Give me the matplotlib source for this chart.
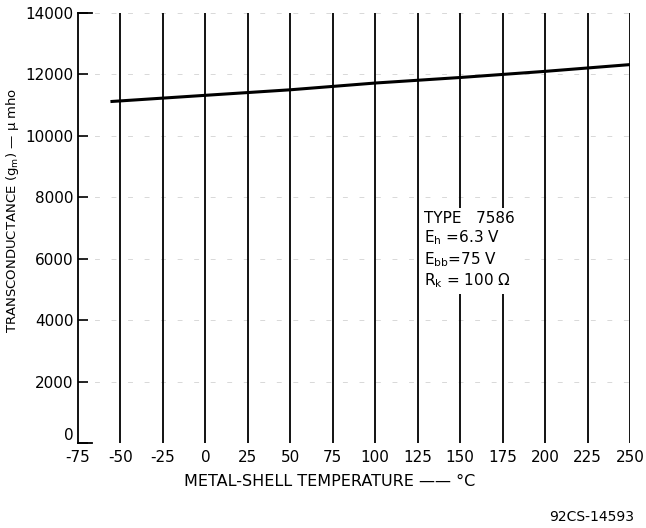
import matplotlib
matplotlib.use("Agg")
import matplotlib.pyplot as plt

temps = [-55, 0, 50, 100, 150, 200, 250]
gm = [11120, 11320, 11500, 11720, 11900, 12100, 12320]
xticks = list(range(-75, 251, 25))
yticks = list(range(0, 14001, 2000))

plt.rcParams['font.family'] = ['DejaVu Sans']
fig = plt.figure(figsize=(6.46, 5.28), dpi=100)
ax = fig.add_axes([78/646, 1-443/528, (630-78)/646, (443-13)/528])
ax.set_xlim(-75, 250)
ax.set_ylim(0, 14000)

for t in xticks[1:]:
    ax.axvline(t, color='black', lw=1.3, zorder=1)
for v in yticks[1:]:
    ax.axhline(v, color='#d8d8d8', lw=0.7, ls=(0, (5, 12)), zorder=0)

ax.plot(temps, gm, color='black', lw=2.2, zorder=3)

for s in ['top', 'bottom', 'right']:
    ax.spines[s].set_visible(False)
ax.spines['left'].set_linewidth(1.3)
ax.plot([-75, -67], [14000, 14000], color='black', lw=1.3, clip_on=False)
ax.plot([-75, -67], [0, 0], color='black', lw=1.3, clip_on=False)

ax.set_xticks(xticks)
ax.set_xticklabels([str(t) for t in xticks])
ax.set_yticks(yticks)
ax.set_yticklabels([str(v) for v in yticks])
ax.tick_params(axis='y', direction='in', length=7, width=1.2, labelsize=11, pad=3)
ax.tick_params(axis='x', length=0, labelsize=11, pad=5)
ax.get_yticklabels()[0].set_verticalalignment('bottom')

ax.set_xlabel('METAL-SHELL TEMPERATURE —— °C', fontsize=11.5)
ax.xaxis.set_label_coords((330-78)/552, -0.072)
ax.set_ylabel('TRANSCONDUCTANCE (g$_\\mathregular{m}$) — μ mho', fontsize=9.5)
ax.yaxis.set_label_coords(-0.103, (443-210)/430)

ax.text(129, 7560, 'TYPE   7586\nE$_\\mathregular{h}$ =6.3 V\nE$_\\mathregular{bb}$=75 V\nR$_\\mathregular{k}$ = 100 Ω',
        fontsize=11, va='top', ha='left', linespacing=1.2,
        bbox=dict(facecolor='white', edgecolor='none', pad=3), zorder=4)

fig.text(592/646, 1-517/528, '92CS-14593', fontsize=10, ha='center', va='center')

fig.savefig('out.png', dpi=100)
